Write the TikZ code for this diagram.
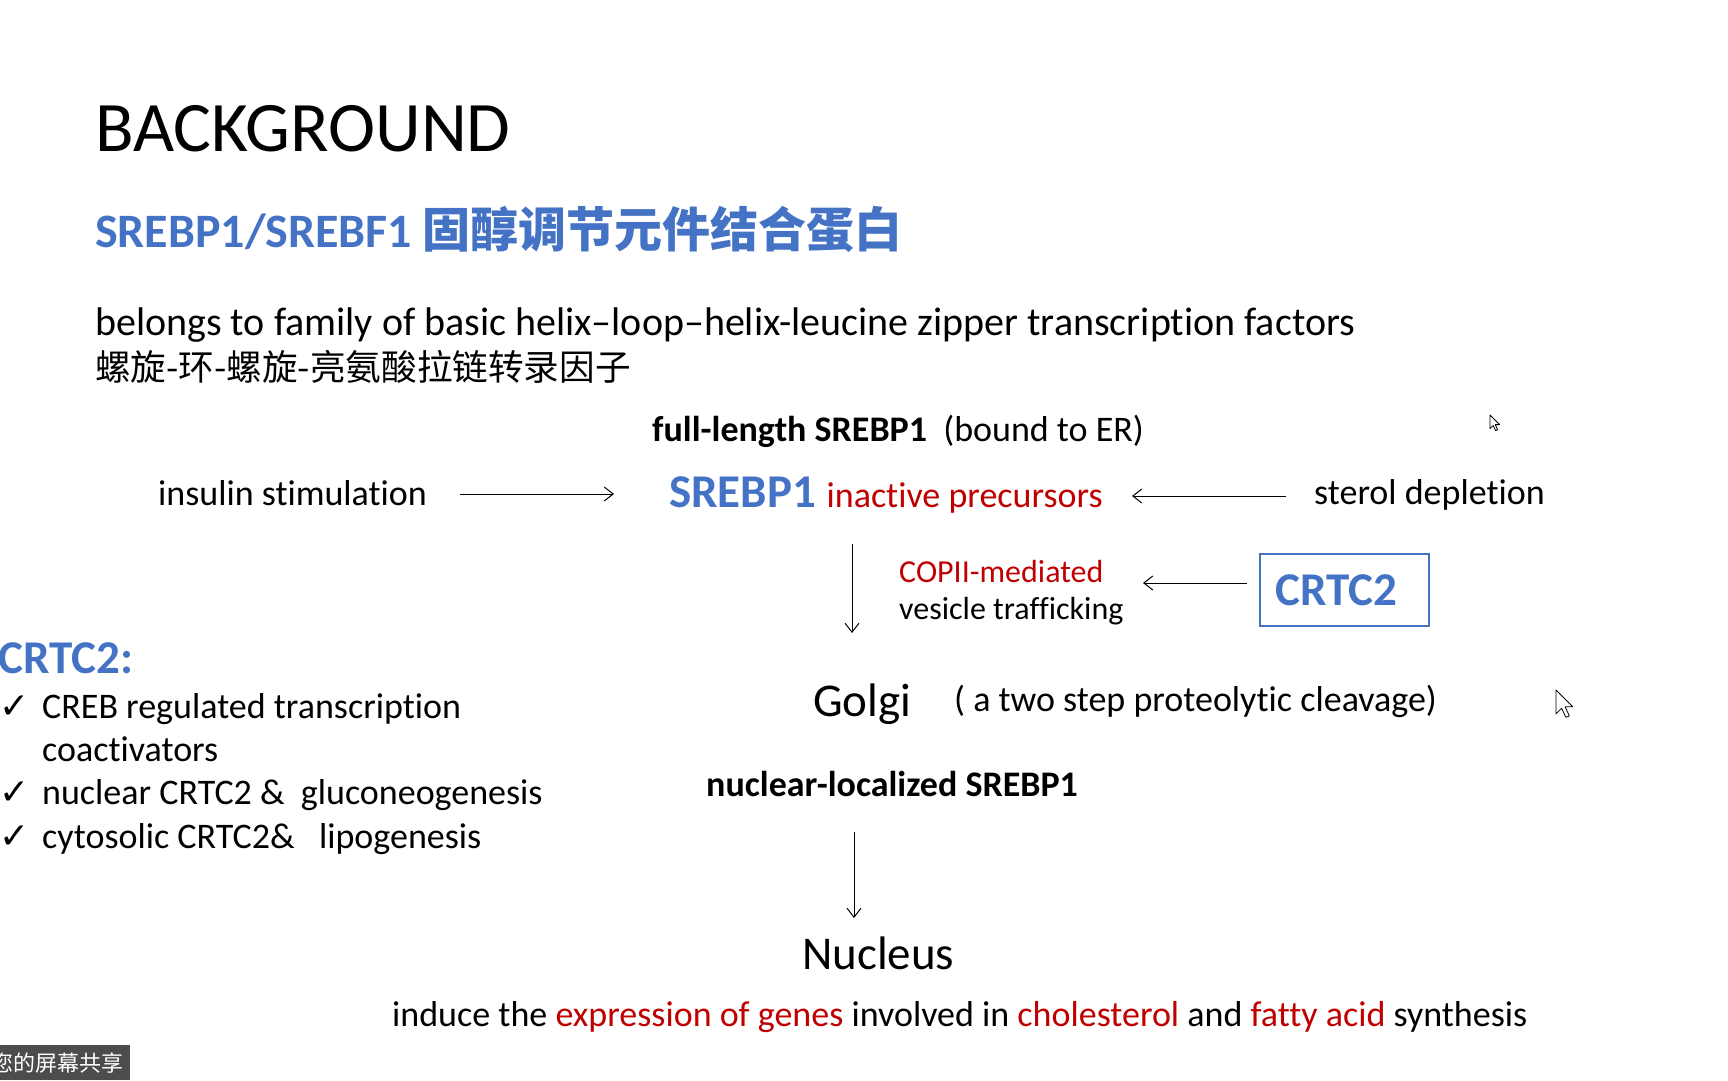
\documentclass[tikz,border=0pt]{standalone}
\usepackage{fontspec}
\setmainfont{Carlito}[Ligatures={TeX,NoCommon}]
\newfontfamily\cjk{Noto Sans CJK SC}
\newfontfamily\dejavu{DejaVu Sans}
\usetikzlibrary{arrows.meta}
\definecolor{offblue}{HTML}{4472C4}
\definecolor{offred}{HTML}{C00000}
\newcommand\fsz[1]{\fontsize{#1bp}{#1bp}\selectfont}
\begin{document}
\begin{tikzpicture}[x=1bp,y=-1bp,
  txt/.style={inner sep=0pt, anchor=base west},
  arr/.style={line width=1bp, -{Straight Barb[length=9bp,width=14bp]}},
  cursor/.style={fill=white, draw=black, line width=0.8bp, line join=round}]
\useasboundingbox (0,0) rectangle (1728,1080);
\fill[white] (0,0) rectangle (1728,1080);

% titles
\node[txt] (bg) at (95,151) {\fsz{71}BACKGROUND};
\node[txt, text=offblue] (title) at (95,247) {\fsz{48}\bfseries SREBP1/SREBF1 {\cjk\fsz{48}\bfseries 固醇调节元件结合蛋白}};
\node[txt] (belongs) at (95,335) {\fsz{40}belongs to family of basic helix–loop–helix-leucine zipper transcription factors};
\node[txt] (cn) at (95,380) {\cjk\fsz{35.6}螺旋-环-螺旋-亮氨酸拉链转录因子};

% pathway
\node[txt] (full) at (652,441) {\fsz{36}\textbf{full-length SREBP1}\ \ (bound to ER)};
\node[txt] (ins) at (158,505) {\fsz{36}insulin stimulation};
\node[txt] (pre) at (669,507) {\fsz{47}\bfseries\color{offblue}SREBP1 {\mdseries\fsz{36}\color{offred}inactive precursors}};
\node[txt] (ster) at (1314,504) {\fsz{36}sterol depletion};
\node[txt, text=offred] (copii) at (899,582) {\fsz{32}COPII-mediated};
\node[txt] (ves) at (899,619) {\fsz{32}vesicle trafficking};
\node[draw=offblue, line width=2bp, minimum width=169bp, minimum height=72bp, inner sep=0pt, text=offblue] (box) at (1344.5,590) {\fsz{47}\bfseries CRTC2\rule{16bp}{0pt}};
\node[txt] (golgi) at (813,716) {\fsz{47}Golgi};
\node[txt] (cleave) at (954,711) {\fsz{36}( a two step proteolytic cleavage)};
\node[txt] (nls) at (706,796) {\fsz{36}\bfseries nuclear-localized SREBP1};
\node[txt] (nuc) at (802,969) {\fsz{47}Nucleus};
\node[txt] (ind) at (392,1026) {\fsz{36}induce the \textcolor{offred}{expression of genes} involved in \textcolor{offred}{cholesterol} and \textcolor{offred}{fatty acid} synthesis};

% left list
\node[txt, text=offblue] (crtcL) at (-2,673) {\fsz{47}\bfseries CRTC2:};
\node[txt] (k1) at (-1,718) {\dejavu\fsz{36}✓};
\node[txt] (l1) at (42,718) {\fsz{36}CREB regulated transcription};
\node[txt] (l1b) at (42,761) {\fsz{36}coactivators};
\node[txt] (k2) at (-1,804) {\dejavu\fsz{36}✓};
\node[txt] (l2) at (42,804) {\fsz{36}nuclear CRTC2 \&\ \ gluconeogenesis};
\node[txt] (k3) at (-1,848) {\dejavu\fsz{36}✓};
\node[txt] (l3) at (42,848) {\fsz{36}cytosolic CRTC2\&\ \ \ lipogenesis};

% arrows
\coordinate (a1s) at (460,494);
\coordinate (a1e) at (614,494);
\coordinate (a2s) at (1286,496);
\coordinate (a2e) at (1132,496);
\coordinate (a3s) at (852,544);
\coordinate (a3e) at (852,633);
\coordinate (a4s) at (1247,583);
\coordinate (a4e) at (1143,583);
\coordinate (a5s) at (854,832);
\coordinate (a5e) at (854,918);
\draw[arr] (a1s) -- (a1e);
\draw[arr] (a2s) -- (a2e);
\draw[arr] (a3s) -- (a3e);
\draw[arr] (a4s) -- (a4e);
\draw[arr] (a5s) -- (a5e);

% cursors
\draw[cursor, shift={(1490,415)}, scale=0.8] (0,0) -- (0,17) -- (4,13) -- (7,19.5) -- (9.5,18.5) -- (6.5,12) -- (12,12) -- cycle;
\draw[cursor, shift={(1556,690)}, scale=1.4] (0,0) -- (0,17) -- (4,13) -- (7,19.5) -- (9.5,18.5) -- (6.5,12) -- (12,12) -- cycle;

% screen-share overlay
\begin{scope}
\clip (0,1045) rectangle (130,1080);
\fill[black!70] (0,1045) rectangle (130,1080);
\node[anchor=base east, inner sep=0pt, text=white] (share) at (124,1071) {\cjk\fsz{22}您的屏幕共享};
\end{scope}
\end{tikzpicture}
\end{document}
